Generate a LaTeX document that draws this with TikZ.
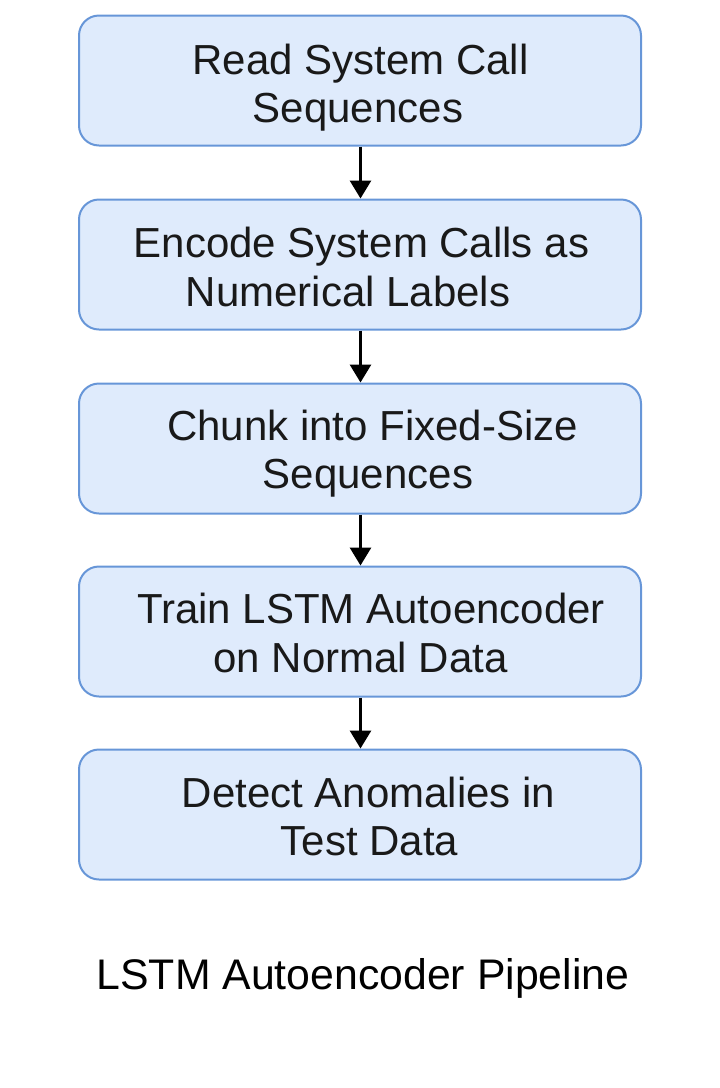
\documentclass[tikz,border=0pt]{standalone}
\usepackage{fontspec}
\setmainfont{Liberation Sans}
\usetikzlibrary{arrows.meta}
\definecolor{boxfill}{HTML}{DFEBFC}
\definecolor{boxline}{HTML}{6796D8}
\begin{document}
\begin{tikzpicture}[x=1pt,y=-1pt,
  stepbox/.style={draw=boxline, fill=boxfill, line width=2pt, rounded corners=20pt,
    minimum width=562pt, minimum height=130pt, inner sep=0pt},
  steptext/.style={anchor=base, inner sep=0pt, text=black!90, font=\fontsize{42}{48}\selectfont},
  flow/.style={line width=3pt, -{Triangle[length=18pt,width=21pt]}}]
\useasboundingbox (0,0) rectangle (720,1088);
\node[stepbox] (s1) at (360,80.5) {};
\node[stepbox] (s2) at (360,264.5) {};
\node[stepbox] (s3) at (360,448.5) {};
\node[stepbox] (s4) at (360,631.5) {};
\node[stepbox] (s5) at (360,814.5) {};
\node[steptext] (t1a) at (360.5,74) {Read System Call};
\node[steptext] (t1b) at (358,122) {Sequences};
\node[steptext] (t2a) at (361.5,257) {Encode System Calls as};
\node[steptext] (t2b) at (348,306) {Numerical Labels};
\node[steptext] (t3a) at (372.5,440) {Chunk into Fixed-Size};
\node[steptext] (t3b) at (368,488) {Sequences};
\node[steptext] (t4a) at (371,623) {Train LSTM Autoencoder};
\node[steptext] (t4b) at (360.5,672) {on Normal Data};
\node[steptext] (t5a) at (368.5,807) {Detect Anomalies in};
\node[steptext] (t5b) at (369.5,855) {Test Data};
\node[steptext, font=\fontsize{42.8}{48}\selectfont, text=black] (title) at (363,989) {LSTM Autoencoder Pipeline};
\draw[flow] (s1.south -| 360.5,0) -- (s2.north -| 360.5,0);
\draw[flow] (s2.south -| 360.5,0) -- (s3.north -| 360.5,0);
\draw[flow] (s3.south -| 360.5,0) -- (s4.north -| 360.5,0);
\draw[flow] (s4.south -| 360.5,0) -- (s5.north -| 360.5,0);
\end{tikzpicture}
\end{document}
